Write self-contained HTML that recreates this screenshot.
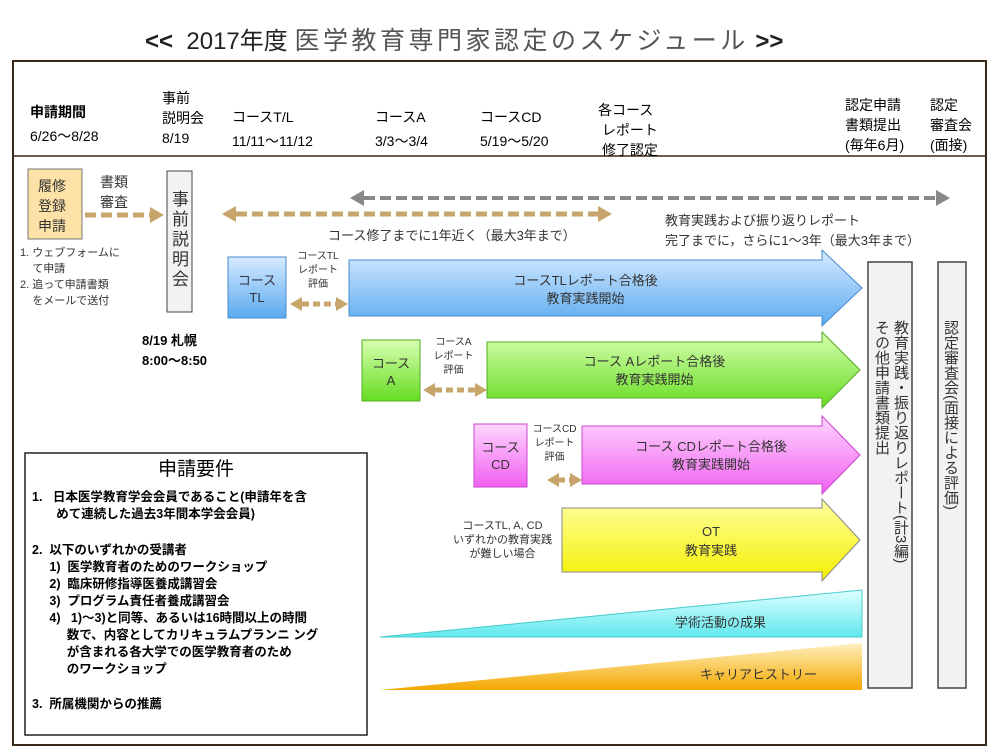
<!DOCTYPE html>
<html><head><meta charset="utf-8"><style>
body{margin:0;width:1000px;height:750px;background:#fff;overflow:hidden;position:relative;font-family:"Liberation Sans","Noto Sans CJK JP",sans-serif;}
.t{position:absolute;white-space:nowrap;line-height:1;}
.v{position:absolute;writing-mode:vertical-rl;line-height:1;white-space:nowrap;}
svg{position:absolute;left:0;top:0;}
</style></head><body>
<svg width="1000" height="750">
<defs>
<linearGradient id="gb" x1="0" y1="0" x2="0" y2="1"><stop offset="0" stop-color="#d6eaff"/><stop offset="1" stop-color="#5aaaf0"/></linearGradient>
<linearGradient id="gg" x1="0" y1="0" x2="0" y2="1"><stop offset="0" stop-color="#d8ffb0"/><stop offset="1" stop-color="#66dd22"/></linearGradient>
<linearGradient id="gp" x1="0" y1="0" x2="0" y2="1"><stop offset="0" stop-color="#ffd6ff"/><stop offset="1" stop-color="#f060f0"/></linearGradient>
<linearGradient id="gy" x1="0" y1="0" x2="0" y2="1"><stop offset="0" stop-color="#ffffa0"/><stop offset="1" stop-color="#f4f000"/></linearGradient>
<linearGradient id="gc" x1="0" y1="0" x2="0" y2="1"><stop offset="0" stop-color="#e0ffff"/><stop offset="1" stop-color="#60e8ee"/></linearGradient>
<linearGradient id="go" x1="0" y1="0" x2="0" y2="1"><stop offset="0" stop-color="#fff0c0"/><stop offset="1" stop-color="#f4a800"/></linearGradient>
</defs>
<rect x="13" y="61" width="973" height="684" fill="none" stroke="#3a2a1a" stroke-width="2"/>
<line x1="13" y1="156" x2="986" y2="156" stroke="#3a2a1a" stroke-width="1.5"/>
<rect x="28" y="169" width="54" height="70" fill="#fde2a8" stroke="#777"/>
<rect x="167" y="171" width="25" height="141" fill="#f2f2f2" stroke="#444"/>
<g stroke="#c8a56a" stroke-width="5" stroke-dasharray="11,5" fill="none">
<line x1="85" y1="215" x2="150" y2="215"/>
<line x1="236" y1="214" x2="598" y2="214"/>
<line x1="302" y1="304" x2="336" y2="304" stroke-dasharray="7,4"/>
<line x1="435" y1="390" x2="475" y2="390" stroke-dasharray="7,4"/>
<line x1="558" y1="480" x2="570" y2="480" stroke-dasharray="7,4"/>
</g>
<g fill="#c8a56a">
<polygon points="164,215 150,207 150,223"/>
<polygon points="222,214 236,206 236,222"/><polygon points="612,214 598,206 598,222"/>
<polygon points="290,304 302,297 302,311"/><polygon points="348,304 336,297 336,311"/>
<polygon points="423,390 435,383 435,397"/><polygon points="487,390 475,383 475,397"/>
<polygon points="547,480 559,473 559,487"/><polygon points="582,480 570,473 570,487"/>
</g>
<line x1="364" y1="198" x2="936" y2="198" stroke="#888" stroke-width="4" stroke-dasharray="11,5"/>
<polygon points="350,198 364,190 364,206" fill="#888"/><polygon points="950,198 936,190 936,206" fill="#888"/>
<rect x="228" y="257" width="58" height="61" fill="url(#gb)" stroke="#4a8ad0"/>
<rect x="362" y="340" width="58" height="61" fill="url(#gg)" stroke="#55aa22"/>
<rect x="474" y="424" width="53" height="63" fill="url(#gp)" stroke="#cc44cc"/>
<polygon points="349,260 822,260 822,250 862,288 822,326 822,316 349,316" fill="url(#gb)" stroke="#4a8ad0"/>
<polygon points="487,342 822,342 822,332 860,370 822,408 822,398 487,398" fill="url(#gg)" stroke="#55aa22"/>
<polygon points="582,426 822,426 822,416 860,455 822,494 822,484 582,484" fill="url(#gp)" stroke="#cc44cc"/>
<polygon points="562,508 822,508 822,499 860,540 822,581 822,572 562,572" fill="url(#gy)" stroke="#888"/>
<polygon points="380,637 862,590 862,637" fill="url(#gc)" stroke="#4cc"/>
<polygon points="380,690 862,643 862,690" fill="url(#go)"/>
<rect x="868" y="262" width="44" height="426" fill="#f2f2f2" stroke="#444" stroke-width="1.5"/>
<rect x="938" y="262" width="28" height="426" fill="#f2f2f2" stroke="#444" stroke-width="1.5"/>
<rect x="25" y="453" width="342" height="282" fill="#fff" stroke="#222" stroke-width="1.5"/>
</svg>
<div class="t" style="left:145px;top:29px;font-size:24px;color:#222;"><b>&lt;&lt;</b>&nbsp; <span>2017年度</span> <span style="color:#555;font-size:25px;letter-spacing:3.5px;">医学教育専門家認定のスケジュール</span> <b>&gt;&gt;</b></div>
<div class="t" style="left:30px;top:105px;font-size:14px;font-weight:bold;">申請期間</div>
<div class="t" style="left:30px;top:129px;font-size:14px;">6/26〜8/28</div>
<div class="t" style="left:162px;top:88px;font-size:14px;line-height:20px;">事前<br>説明会<br>8/19</div>
<div class="t" style="left:232px;top:105px;font-size:14px;line-height:24px;">コースT/L<br>11/11〜11/12</div>
<div class="t" style="left:375px;top:105px;font-size:14px;line-height:24px;">コースA<br>3/3〜3/4</div>
<div class="t" style="left:480px;top:105px;font-size:14px;line-height:24px;">コースCD<br>5/19〜5/20</div>
<div class="t" style="left:598px;top:100px;font-size:14px;line-height:20px;">各コース<br>&nbsp;レポート<br>&nbsp;修了認定</div>
<div class="t" style="left:845px;top:95px;font-size:14px;line-height:20px;">認定申請<br>書類提出<br>(毎年6月)</div>
<div class="t" style="left:930px;top:95px;font-size:14px;line-height:20px;">認定<br>審査会<br>(面接)</div>
<div class="t" style="left:38px;top:176px;font-size:14px;line-height:20px;color:#333;">履修<br>登録<br>申請</div>
<div class="t" style="left:100px;top:172px;font-size:14px;line-height:20px;color:#333;">書類<br>審査</div>
<div class="v" style="left:170px;top:190px;font-size:17px;letter-spacing:3px;color:#333;">事前説明会</div>
<div class="t" style="left:20px;top:245px;font-size:11px;line-height:16px;color:#333;">1. ウェブフォームに<br>&nbsp;&nbsp;&nbsp;&nbsp;て申請<br>2. 追って申請書類<br>&nbsp;&nbsp;&nbsp;&nbsp;をメールで送付</div>
<div class="t" style="left:142px;top:331px;font-size:13px;line-height:20px;font-weight:bold;">8/19 札幌<br>8:00〜8:50</div>
<div class="t" style="left:328px;top:229px;font-size:13px;color:#333;">コース修了までに1年近く（最大3年まで）</div>
<div class="t" style="left:665px;top:211px;font-size:13px;line-height:20px;color:#333;">教育実践および振り返りレポート<br>完了までに，さらに1〜3年（最大3年まで）</div>
<div class="t" style="left:228px;top:272px;width:58px;text-align:center;font-size:13px;line-height:17px;color:#334;">コース<br>TL</div>
<div class="t" style="left:286px;top:250px;width:64px;text-align:center;font-size:10px;line-height:14px;color:#333;">コースTL<br>レポート<br>評価</div>
<div class="t" style="left:349px;top:272px;width:473px;text-align:center;font-size:13px;line-height:18px;color:#333;">コースTLレポート合格後<br>教育実践開始</div>
<div class="t" style="left:362px;top:355px;width:58px;text-align:center;font-size:13px;line-height:17px;color:#333;">コース<br>A</div>
<div class="t" style="left:420px;top:336px;width:67px;text-align:center;font-size:10px;line-height:14px;color:#333;">コースA<br>レポート<br>評価</div>
<div class="t" style="left:487px;top:353px;width:335px;text-align:center;font-size:13px;line-height:18px;color:#333;">コース Aレポート合格後<br>教育実践開始</div>
<div class="t" style="left:474px;top:439px;width:53px;text-align:center;font-size:13px;line-height:17px;color:#333;">コース<br>CD</div>
<div class="t" style="left:527px;top:423px;width:55px;text-align:center;font-size:10px;line-height:14px;color:#333;">コースCD<br>レポート<br>評価</div>
<div class="t" style="left:600px;top:438px;width:222px;text-align:center;font-size:13px;line-height:18px;color:#333;">コース CDレポート合格後<br>教育実践開始</div>
<div class="t" style="left:445px;top:519px;width:115px;text-align:center;font-size:11px;line-height:14px;color:#333;">コースTL, A, CD<br>いずれかの教育実践<br>が難しい場合</div>
<div class="t" style="left:600px;top:522px;width:222px;text-align:center;font-size:13px;line-height:19px;color:#333;">OT<br>教育実践</div>
<div class="t" style="left:675px;top:616px;font-size:13px;color:#333;">学術活動の成果</div>
<div class="t" style="left:700px;top:668px;font-size:13px;color:#333;">キャリアヒストリー</div>
<div class="v" style="left:872px;top:320px;font-size:15px;line-height:19px;color:#333;">教育実践・振り返りレポート(計3編)<br>その他申請書類提出</div>
<div class="v" style="left:943px;top:320px;font-size:15px;color:#333;">認定審査会(面接による評価)</div>
<div class="t" style="left:25px;top:460px;width:342px;text-align:center;font-size:19px;">申請要件</div>
<div class="t" style="left:32px;top:489px;font-size:12.5px;font-weight:bold;line-height:17px;">1.&nbsp;&nbsp;&nbsp;日本医学教育学会会員であること(申請年を含<br>&nbsp;&nbsp;&nbsp;&nbsp;&nbsp;&nbsp;&nbsp;めて連続した過去3年間本学会会員)</div>
<div class="t" style="left:32px;top:542px;font-size:12.5px;font-weight:bold;line-height:17px;">2.&nbsp;&nbsp;以下のいずれかの受講者<br>&nbsp;&nbsp;&nbsp;&nbsp;&nbsp;1)&nbsp;&nbsp;医学教育者のためのワークショップ<br>&nbsp;&nbsp;&nbsp;&nbsp;&nbsp;2)&nbsp;&nbsp;臨床研修指導医養成講習会<br>&nbsp;&nbsp;&nbsp;&nbsp;&nbsp;3)&nbsp;&nbsp;プログラム責任者養成講習会<br>&nbsp;&nbsp;&nbsp;&nbsp;&nbsp;4)&nbsp;&nbsp;&nbsp;1)〜3)と同等、あるいは16時間以上の時間<br>&nbsp;&nbsp;&nbsp;&nbsp;&nbsp;&nbsp;&nbsp;&nbsp;&nbsp;&nbsp;数で、内容としてカリキュラムプランニ ング<br>&nbsp;&nbsp;&nbsp;&nbsp;&nbsp;&nbsp;&nbsp;&nbsp;&nbsp;&nbsp;が含まれる各大学での医学教育者のため<br>&nbsp;&nbsp;&nbsp;&nbsp;&nbsp;&nbsp;&nbsp;&nbsp;&nbsp;&nbsp;のワークショップ</div>
<div class="t" style="left:32px;top:698px;font-size:12.5px;font-weight:bold;">3.&nbsp;&nbsp;所属機関からの推薦</div>
</body></html>
